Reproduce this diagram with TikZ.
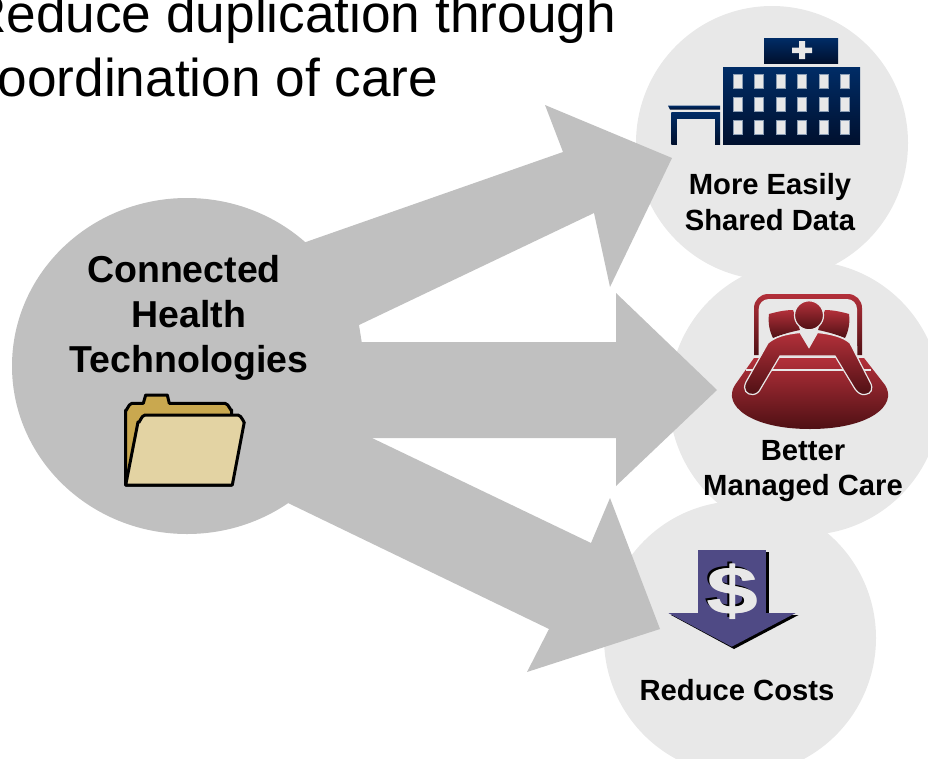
\documentclass[tikz,border=0pt]{standalone}
\usepackage{fontspec}
\setmainfont{Liberation Sans}
\usetikzlibrary{shapes.geometric}
\definecolor{disclight}{HTML}{E8E8E8}
\definecolor{arrowgrey}{HTML}{C0C0C0}
\definecolor{navytop}{HTML}{002C66}
\definecolor{navybot}{HTML}{00102E}
\definecolor{redtop}{HTML}{B3303A}
\definecolor{redbot}{HTML}{4F1014}
\definecolor{dollarblue}{HTML}{4F4A85}
\definecolor{foldback}{HTML}{C9A84F}
\definecolor{foldfront}{HTML}{E3D3A3}
\tikzset{
	disc/.style={ellipse,fill=disclight,inner sep=0pt,minimum width=272pt,minimum height=274pt},
	hubdisc/.style={ellipse,fill=arrowgrey,inner sep=0pt,minimum width=350pt,minimum height=336pt},
	bigarrow/.style={fill=arrowgrey},
	titleline/.style={anchor=base west,inner sep=0pt,font=\fontsize{53.2}{64}\selectfont},
	smalllabel/.style={inner sep=0pt,align=center,font=\fontsize{29.2}{35.5}\selectfont\bfseries},
	hublabel/.style={inner sep=0pt,align=center,font=\fontsize{37.5}{45}\selectfont\bfseries},
	navy/.style={top color=navytop,bottom color=navybot},
	redfill/.style={top color=redtop,bottom color=redbot},
	window/.style={fill=disclight,draw=navytop!40!disclight,line width=0.5pt},
	folder/.style={draw=black,line width=3pt,line join=round},
	dollarsign/.style={inner sep=0pt,xscale=1.35,font=\fontsize{68}{68}\selectfont\bfseries}
}
\begin{document}
\begin{tikzpicture}[x=1pt,y=-1pt]
	\useasboundingbox (0,0) rectangle (928,758);
	\node (shared) [disc] at (772,143) {};
	\node (managed) [disc] at (805,398) {};
	\node (costs) [disc] at (740,638) {};
	\node (hub) [hubdisc] at (187,366) {};
	\fill[bigarrow] (300,244) -- (306.7,241.7) -- (563,152) -- (545,105) -- (672,158) -- (610,287) -- (594,213) -- (359,325) -- (361.7,342) -- (300,342) -- cycle;
	\fill[bigarrow] (340,342) -- (616,342) -- (616,293) -- (717,390) -- (616,486) -- (616,438) -- (340,438) -- cycle;
	\fill[bigarrow] (340,423) -- (372,438) -- (591,543) -- (610,498) -- (660,629) -- (527,672) -- (549,629) -- (288,503) -- cycle;
	\node (title1) [titleline] at (-32,32) {Reduce duplication through};
	\node (title2) [titleline] at (-41,96.5) {Coordination of care};
	\node (hublbl) [hublabel] at (189,318) {Connected\hspace*{10pt}\\Health\\Technologies};
	\node (sharedlbl) [smalllabel] at (770,202) {More Easily\\Shared Data};
	\node (managedlbl) [smalllabel] at (803,471) {Better\\Managed Care};
	\node (costslbl) [smalllabel] at (737,690) {Reduce Costs};
	\filldraw[folder,fill=foldback] (125.7,485) -- (125.7,410) to[out=-90,in=180] (132,403.3) -- (143.3,403.3) -- (145.7,395) -- (167.3,395) -- (169.3,403.3) -- (225,403.3) to[out=0,in=-90] (231.7,410) -- (231.7,485) -- cycle;
	\filldraw[folder,fill=foldfront] (125.7,485) -- (138,422) to[out=-78,in=180] (145,415) -- (238,415) to[out=0,in=-80] (244.3,422) -- (232.3,485) -- cycle;
	\shade[navy] (723,67) rectangle (860,144);
	\shade[navy] (764,38) rectangle (838,63);
	\fill[disclight] (792,47.5) -- (799,47.5) -- (799,41) -- (805,41) -- (805,47.5) -- (812,47.5) -- (812,53) -- (805,53) -- (805,59) -- (799,59) -- (799,53) -- (792,53) -- cycle;
	\foreach \wx in {733,754.3,776,797.3,819,840.3}
		\foreach \wy in {74.3,97.3,120.3}
			\filldraw[window] (\wx,\wy) rectangle ++(9,14);
	\shade[navy] (668,105.7) -- (720,105.7) -- (720,109.5) -- (670,109.5) -- cycle;
	\shade[navy] (671.3,112) rectangle (720,144.3);
	\fill[disclight] (676.7,119.3) rectangle (715,144.5);
	\shade[redfill] (754,355) -- (754,308) arc[start angle=180,end angle=270,radius=14] -- (848,294) arc[start angle=270,end angle=360,radius=14] -- (862,355) -- cycle;
	\fill[disclight] (758.7,356) -- (758.7,309) arc[start angle=180,end angle=270,radius=10] -- (847,299) arc[start angle=270,end angle=360,radius=10] -- (857.3,356) -- cycle;
	\shade[redfill] (769,314) .. controls (776,312) and (785,310) .. (793,310) -- (800,330) .. controls (790,332) and (780,335) .. (773,338) .. controls (769,330) and (768,322) .. (769,314) -- cycle;
	\shade[redfill] (849,314) .. controls (842,312) and (833,310) .. (825,310) -- (818,330) .. controls (828,332) and (838,335) .. (845,338) .. controls (849,330) and (850,322) .. (849,314) -- cycle;
	\shade[top color=redtop,middle color=redtop!90!redbot,bottom color=redbot] (754,358) -- (735,385) .. controls (722,405) and (750,429) .. (810,429) .. controls (870,429) and (898,405) .. (885,385) -- (864,358) -- cycle;
	\draw[disclight,line width=1.2pt] (746,370) -- (871,370);
	\shade[redfill,draw=disclight,line width=1.2pt] (800,332.5) .. controls (785,334) and (775,337) .. (768,343) -- (746,382) .. controls (742,390) and (747,395) .. (753,394.5) .. controls (757,394) and (759,392) .. (761,388) -- (780,356) -- (835,356) -- (855,389) .. controls (858,393) and (861,395) .. (865,394.5) .. controls (871,394) and (874,389) .. (870,382) -- (850,343) .. controls (843,337) and (832,334) .. (817.5,332.5) -- (809,347.5) -- cycle;
	\shade[redfill,draw=disclight,line width=1.2pt] (809,315.3) circle[radius=14.5];
	\fill[black] (701,552) rectangle (769,615);
	\fill[black] (671,615) -- (798.5,615) -- (734,649) -- cycle;
	\fill[dollarblue] (697.7,550) rectangle (766,613);
	\fill[dollarblue] (668.3,613) -- (795.7,613) -- (731.7,646.7) -- cycle;
	\node (dollarshadow) [dollarsign,text=black] at (730,590) {\$};
	\node (dollar) [dollarsign,text=disclight] at (732.5,592) {\$};
	\node (dollarthick) [dollarsign,text=disclight] at (733.5,592) {\$};
\end{tikzpicture}
\end{document}
